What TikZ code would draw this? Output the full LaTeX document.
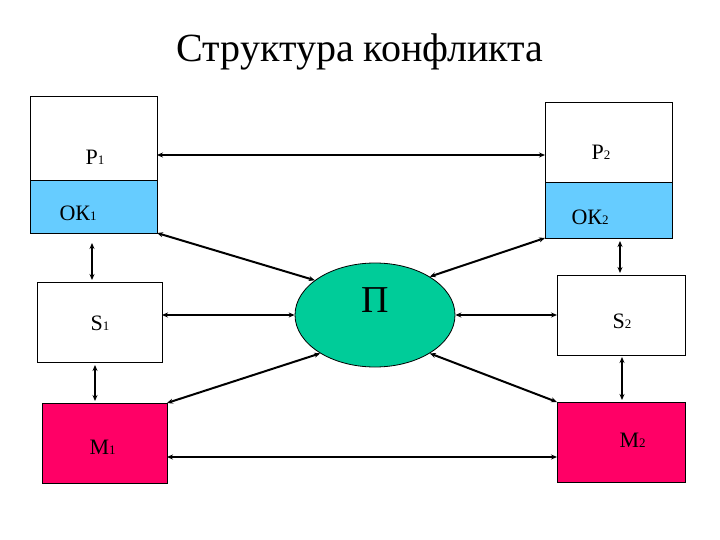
\documentclass[tikz,border=0pt]{standalone}
\usepackage{fontspec}
\setmainfont{Liberation Serif}
\usetikzlibrary{shapes.geometric,arrows.meta}
\definecolor{okb}{HTML}{66CCFF}
\definecolor{mag}{HTML}{FF0066}
\definecolor{grn}{HTML}{00CC99}
\newcommand{\lb}[2]{{\fontsize{22}{22}\selectfont #1}{\fontsize{13}{13}\selectfont #2}}
\begin{document}
\begin{tikzpicture}[x=1pt,y=-1pt,
  box/.style={draw=black,line width=0.8pt,inner sep=0pt},
  con/.style={{Stealth[length=6pt,width=5pt]}-{Stealth[length=6pt,width=5pt]},line width=2pt}]
\useasboundingbox (0,0) rectangle (720,540);
\node at (360,52) {\fontsize{40}{40}\selectfont Структура конфликта};
% boxes
\draw[box,fill=white] (30,96) rectangle (157,180);
\draw[box,fill=okb] (30,180) rectangle (157,233);
\draw[box,fill=white] (545,102) rectangle (672,182);
\draw[box,fill=okb] (545,182) rectangle (672,238);
\draw[box,fill=white] (37,282) rectangle (162,362);
\draw[box,fill=white] (557,275) rectangle (685,355);
\draw[box,fill=mag] (42,403) rectangle (167,483);
\draw[box,fill=mag] (557,402) rectangle (685,482);
\coordinate (P1) at (157,155); \coordinate (P2) at (545,155);
\coordinate (OK1) at (157,233); \coordinate (OK2) at (545,238);
\coordinate (S1r) at (162,315); \coordinate (S2l) at (557,315);
\coordinate (M1) at (167,403); \coordinate (M2) at (557,402);
\coordinate (M1r) at (167,457); \coordinate (M2l) at (557,457);
\coordinate (a1) at (92,243); \coordinate (a2) at (92,280);
\coordinate (b1) at (620,241); \coordinate (b2) at (620,273);
\coordinate (c1) at (95,365); \coordinate (c2) at (95,401);
\coordinate (d1) at (622,357); \coordinate (d2) at (622,400);
\node[ellipse,draw=black,line width=0.8pt,fill=grn,minimum width=160pt,minimum height=104pt,inner sep=0pt] (E) at (375,315) {};
\node at (375,300) {\fontsize{38}{38}\selectfont П};
\node[anchor=base west] (tP1) at (82,165) {\lb{P}{1}};
\node[anchor=base west] (tP2) at (588,160) {\lb{P}{2}};
\node[anchor=base west] (tO1) at (56,221) {\lb{ОК}{1}};
\node[anchor=base west] (tO2) at (568,225) {\lb{ОК}{2}};
\node[anchor=base west] (tS1) at (87,330) {\lb{S}{1}};
\node[anchor=base west] (tS2) at (609,328) {\lb{S}{2}};
\node[anchor=base west] (tM1) at (86,454) {\lb{M}{1}};
\node[anchor=base west] (tM2) at (616,447) {\lb{M}{2}};
\draw[con] (P1) -- (P2);
\draw[con] (OK1) -- (E.150);
\draw[con] (OK2) -- (E.35);
\draw[con] (S1r) -- (E.west);
\draw[con] (S2l) -- (E.east);
\draw[con] (M1) -- (E.215);
\draw[con] (M2) -- (E.325);
\draw[con] (M1r) -- (M2l);
\draw[con] (a1) -- (a2);
\draw[con] (b1) -- (b2);
\draw[con] (c1) -- (c2);
\draw[con] (d1) -- (d2);
\end{tikzpicture}
\end{document}
